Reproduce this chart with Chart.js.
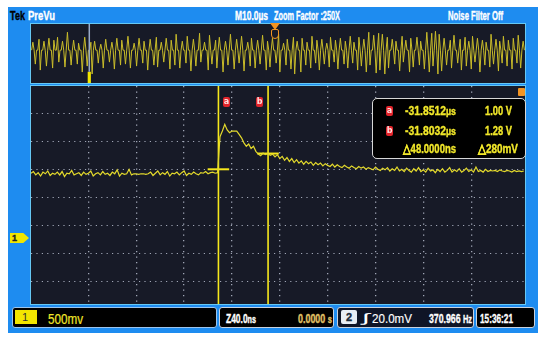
<!DOCTYPE html>
<html>
<head>
<meta charset="utf-8">
<script src="https://cdn.jsdelivr.net/npm/chart.js@4.4.1/dist/chart.umd.min.js"></script>
<style>
html, body { margin: 0; padding: 0; background: #fff; width: 550px; height: 341px; overflow: hidden; }
div, canvas { position: absolute; box-sizing: border-box; }
#frame { left: 8px; top: 7px; width: 530px; height: 326px; background: #1e8cf0; }
.t { font-family: "Liberation Sans", Arial, sans-serif; font-weight: bold; white-space: nowrap; line-height: 1; transform-origin: 0 0; -webkit-text-stroke: 0.35px currentColor; }
.pane { border: 1px solid #66c8f4; background: #171a27; }
.box { background: #000; border: 1px solid #c9d2de; border-radius: 3px; }
.red { background: #e3242b; color: #ffe0e0; border-radius: 2px; font: bold 8px "DejaVu Sans", sans-serif; text-align: center; line-height: 10px; width: 7px; height: 10px; }
.y { color: #f2e82a; }
.w { color: #fff; }
small { font-size: 0.85em; }
</style>
</head>
<body>
<div id="frame"></div>

<!-- top bar -->
<div class="t" data-w="15" style="left:10px;top:9.5px;font-size:12px;color:#000">Tek</div>
<div class="t w" data-w="27" style="left:28px;top:9.5px;font-size:12px">PreVu</div>
<div class="t w" data-w="33" style="left:235px;top:9.5px;font-size:12px">M10.0µs</div>
<div class="t w" data-w="66" style="left:274px;top:9.5px;font-size:12px">Zoom Factor :250X</div>
<div class="t w" data-w="55" style="left:448px;top:9.5px;font-size:12px">Noise Filter Off</div>

<!-- overview -->
<div class="pane" style="left:30px;top:23px;width:496px;height:61px"></div>
<canvas id="ov" width="494" height="59" style="left:31px;top:24px"></canvas>
<div style="left:270px;top:23px;width:10px;height:7px;background:#f39422;clip-path:polygon(0 0,100% 0,50% 100%)"></div>
<div style="left:271px;top:29px;width:8px;height:10px;border:1.5px solid #f39422;border-radius:2px 2px 4px 4px"></div>

<!-- main -->
<div class="pane" style="left:30px;top:85px;width:496px;height:220px"></div>
<canvas id="main" width="494" height="218" style="left:31px;top:86px"></canvas>
<div class="red" style="left:223px;top:97px">a</div>
<div class="red" style="left:256px;top:97px">b</div>
<div style="left:518px;top:88px;width:7px;height:8px;background:#f39422;border-radius:1px"></div>

<div class="box" style="left:372px;top:98px;width:154px;height:61px;border-color:#d8d8d8;border-radius:5px"></div>
<div class="red" style="left:386px;top:106px">a</div>
<div class="t y" data-w="51" style="left:405px;top:103.5px;font-size:13.5px">-31.8512<small>µs</small></div>
<div class="t y" data-w="27" style="left:485px;top:103.5px;font-size:13.5px">1.00 V</div>
<div class="red" style="left:386px;top:126px">b</div>
<div class="t y" data-w="51" style="left:405px;top:123.5px;font-size:13.5px">-31.8032<small>µs</small></div>
<div class="t y" data-w="27" style="left:485px;top:123.5px;font-size:13.5px">1.28 V</div>
<div class="t y" data-w="53" style="left:403px;top:143px;font-size:12.5px">△48.0000ns</div>
<div class="t y" data-w="40" style="left:478px;top:143px;font-size:12.5px">△280mV</div>

<div style="left:10px;top:233px;width:19px;height:10px;background:#f2e600;clip-path:polygon(0 0,70% 0,100% 50%,70% 100%,0 100%)"></div>
<div class="t" style="left:12px;top:234px;font-size:9px;color:#222">1</div>

<!-- bottom bar -->
<div class="box" style="left:12px;top:307px;width:205px;height:21px;border-color:#9cc4ec"></div>
<div style="left:15px;top:310px;width:22px;height:14px;background:#f2e600"></div>
<div class="t" style="left:22px;top:312px;font-size:11px;font-weight:normal;color:#333;-webkit-text-stroke:0">1</div>
<div class="t y" data-w="35" style="left:48px;top:312px;font-size:14px;font-weight:normal;-webkit-text-stroke:0.2px currentColor">500mv</div>

<div class="box" style="left:219px;top:307px;width:115px;height:21px"></div>
<div class="t w" data-w="30" style="left:226px;top:313px;font-size:12px">Z40.0<small>ns</small></div>
<div class="t" data-w="34" style="left:298px;top:313px;font-size:12px;color:#e0c266">0.0000 <small>s</small></div>

<div class="box" style="left:337px;top:307px;width:137px;height:21px;background:#0f1526"></div>
<div style="left:341px;top:310px;width:16px;height:14px;background:#e8eef5;border-radius:2px"></div>
<div class="t" style="left:346px;top:312px;font-size:11px;color:#1a2a3a">2</div>
<div class="t w" data-w="8" style="left:362px;top:312px;font-size:12.5px;font-weight:normal;-webkit-text-stroke:0">∫</div>
<div class="t w" data-w="40" style="left:372px;top:312.5px;font-size:12.5px;font-weight:normal;-webkit-text-stroke:0.15px currentColor">20.0mV</div>
<div class="t w" data-w="43" style="left:429px;top:313px;font-size:12px">370.966 <small>Hz</small></div>

<div class="box" style="left:476px;top:307px;width:59px;height:21px"></div>
<div class="t w" data-w="33" style="left:480px;top:313px;font-size:12px">15:36:21</div>

<script>
// zoomed record (channel 1), sampled every 2 ns
const mainT0 = -208;
const mainDt = 2;
const mainVolts = [
  0.93, 0.96, 0.90, 0.94, 0.88, 0.95, 0.92, 0.97, 0.89, 0.93,
  0.91, 0.95, 0.90, 0.96, 0.87, 0.93, 0.92, 0.98, 0.90, 0.92,
  0.94, 0.89, 0.95, 0.91, 0.93, 0.97, 0.88, 0.92, 0.94, 0.90,
  0.96, 0.91, 0.93, 0.89, 0.95, 0.92, 0.99, 0.88, 0.93, 0.91,
  0.92, 1.00, 0.90, 0.92, 0.92, 0.91, 0.92, 0.92, 0.91, 0.92,
  0.95, 0.89, 0.93, 0.97, 0.90, 0.94, 0.91, 0.96, 0.88, 0.93,
  0.92, 0.95, 0.90, 0.94, 0.97, 0.89, 0.93, 0.91, 0.95, 0.92,
  0.90, 0.94, 0.93, 0.96, 0.92, 0.94, 0.95, 0.93, 0.94,
  1.58, 1.68, 1.80, 1.70, 1.65, 1.68, 1.68, 1.68, 1.62, 1.56,
  1.47, 1.41, 1.45, 1.37, 1.41, 1.32, 1.27, 1.24, 1.29, 1.26,
  1.28, 1.25, 1.27, 1.22, 1.26, 1.19, 1.23, 1.16, 1.21, 1.14,
  1.19, 1.12, 1.17, 1.11, 1.15, 1.09, 1.14, 1.10, 1.13, 1.07,
  1.12, 1.08, 1.11, 1.06, 1.10, 1.07, 1.05, 1.09, 1.04, 1.08,
  1.05, 1.03, 1.07, 1.04, 1.02, 1.06, 1.03, 1.01, 1.05, 1.02,
  1.04, 1.00, 1.03, 1.01, 0.99, 1.04, 1.00, 0.98, 1.02, 0.99,
  1.03, 0.97, 1.01, 0.98, 1.04, 0.97, 1.00, 0.96, 1.02, 0.98,
  0.95, 1.01, 0.97, 1.03, 0.96, 0.99, 0.95, 1.02, 0.97, 0.99,
  0.94, 1.00, 0.96, 1.01, 0.95, 0.98, 1.03, 0.95, 0.99, 0.96,
  1.01, 0.95, 0.98, 1.02, 0.96, 0.99, 0.95, 1.04, 0.96, 0.98,
  0.95, 1.00, 0.96, 0.98, 0.97, 0.98, 0.96, 0.99, 0.97, 0.96,
  0.98, 0.97, 0.95, 0.98, 0.96, 0.97, 0.96, 0.97
];
const cursorTimes = [-51.3, -9.8];   // ns
const cursorVolts = [1.00, 1.28];    // V
const xTicks = [-160, -120, -80, -40, 0, 40, 80, 120, 160];
const yTicks = [-1.0, -0.5, 0, 0.5, 1.0, 1.5, 2.0];

// full record preview, sampled every 0.25 us
const ovT0 = -49.875;
const ovDt = 0.25;
const ovVals = [
  0, 8, 0, -14, 0, 0, 11, -20, 0, 0, 9, 0, -16, 0, 12, 0, 0, -18, 10, 0,
  0, 13, -12, 0, 0, 9, 0, -17, 0, 18, 0, 0, -15, 0, 10, 0, 0, -14, 7, 0,
  0, -22, 0, 13, 0, -16, 0, 0, 8, -24, 0, 9, 0, 0, -13, 0, 6, 0, -18, 0,
  11, 0, 0, -12, 0, 8, 0, -19, 0, 12, 0, 0, -15, 10, 0, 0, -14, 0, 14, 0,
  -18, 0, 0, 7, 0, -16, 0, 12, 0, 0, -13, 9, 0, 0, -20, 0, 11, 0, 0, -15,
  0, 13, -17, 0, 0, 8, 0, -12, 0, 12, 0, 0, -19, 10, 0, 0, -15, 16, 0, 0,
  -18, 0, 9, 0, 0, -13, 14, 0, 0, -21, 0, 11, 0, -16, 0, 0, 17, -12, 0, 0,
  8, 0, 0, -20, 15, 0, -14, 0, 0, 10, -18, 0, 13, 0, 0, -22, 0, 9, 0, -15,
  0, 16, 0, 0, -19, 0, 11, 0, -13, 0, 14, 0, -21, 0, 0, 8, 0, -16, 12, 0,
  0, -18, 0, 10, 0, -14, 0, 15, 0, 0, -20, 9, 0, -17, 0, 12, 0, 0, -13, 0,
  16, -22, 0, 0, 7, 0, -15, 11, 0, 0, -19, 0, 13, -24, 0, 9, 0, 0, -22, 12,
  0, 0, -15, 8, 0, 0, -18, 14, 0, 0, -13, 10, 0, -20, 0, 11, 0, -14, 0, 7,
  0, -17, 13, 0, 0, -12, 10, 0, -19, 0, 12, 0, 0, -14, 9, 0, -18, 0, 14, 0,
  -13, 8, 0, 0, -20, 13, 0, -16, 0, 11, 0, -22, 0, 18, -15, 0, 0, 15, 0, -23,
  0, 17, -20, 0, 16, 0, -24, 0, 13, -18, 0, 0, 11, 0, -14, 9, 0, 0, -21, 0,
  14, -12, 0, 10, 0, 0, -22, 12, 0, -17, 0, 0, 13, 0, -15, 9, 0, 0, -19, 0,
  18, 0, -22, 0, 17, -16, 0, 19, 0, -24, 16, 0, -21, 0, 12, 0, -15, 0, 0, 10,
  -18, 0, 15, 0, 0, -13, 0, 11, -20, 0, 0, 13, -16, 0, 9, 0, -19, 14, 0, -12,
  0, 12, 0, -22, 0, 10, 0, -15, 8, 0, 0, -17, 16, 0, -14, 0, 11, 0, -21, 9,
  0, -13, 14, 0, 0, -16, 10, 0, 0, -19, 12, 0, 0, -13, 15, 0, -18, 0, 9, 0
];
const zoomMarkUs = -38.2;

// squeeze the UI labels to the narrow scope font widths
document.querySelectorAll('[data-w]').forEach((el) => {
    const w = el.getBoundingClientRect().width;
    el.style.transform = 'scaleX(' + (parseFloat(el.dataset.w) / w) + ')';
});

const gridColor = 'rgba(185,192,208,0.85)';

function fixedTicks(list) {
    return (scale) => { scale.ticks = list.map((v) => ({ value: v })); };
}

// main zoomed window
const mainMin = -1.397, mainMax = 2.482;
const mainData = mainVolts.map((v, i) => ({ x: mainT0 + i * mainDt, y: v }));
const datasets = [{
    data: mainData, borderColor: '#e4da2c', borderWidth: 1.2, pointRadius: 0, tension: 0
}];
cursorTimes.forEach((t, i) => {
    datasets.push({ data: [{ x: t, y: mainMin }, { x: t, y: mainMax }], borderColor: '#f7e81c', borderWidth: 1.6, pointRadius: 0 });
    datasets.push({ data: [{ x: t - 9, y: cursorVolts[i] }, { x: t + 9, y: cursorVolts[i] }], borderColor: '#f7e81c', borderWidth: 2, pointRadius: 0 });
});

new Chart(document.getElementById('main').getContext('2d'), {
    type: 'line',
    data: { datasets: datasets },
    options: {
        responsive: false, animation: false, devicePixelRatio: 1,
        layout: { padding: 0 },
        plugins: { legend: { display: false }, tooltip: { enabled: false } },
        scales: {
            x: { type: 'linear', min: -208, max: 205, afterBuildTicks: fixedTicks(xTicks),
                 ticks: { display: false }, grid: { color: gridColor, lineWidth: 1.3, drawTicks: false },
                 border: { display: false, dash: [1.3, 4.2] } },
            y: { type: 'linear', min: mainMin, max: mainMax, afterBuildTicks: fixedTicks(yTicks),
                 ticks: { display: false }, grid: { color: gridColor, lineWidth: 1, drawTicks: false },
                 border: { display: false, dash: [1.2, 4.2] } }
        }
    }
});

// overview of the full record
const ovMin = -33, ovMax = 26.3;
const ovData = ovVals.map((v, i) => ({ x: ovT0 + i * ovDt, y: v }));
new Chart(document.getElementById('ov').getContext('2d'), {
    type: 'line',
    data: { datasets: [
        { data: [{ x: zoomMarkUs, y: ovMax }, { x: zoomMarkUs, y: -21.7 }], borderColor: '#9aabc8', borderWidth: 1.5, pointRadius: 0 },
        { data: ovData, borderColor: '#c9bc2a', borderWidth: 1, pointRadius: 0, tension: 0 },
        { data: [{ x: zoomMarkUs, y: -21.7 }, { x: zoomMarkUs, y: ovMin }], borderColor: '#f2e600', borderWidth: 3.2, pointRadius: 0 }
    ] },
    options: {
        responsive: false, animation: false, devicePixelRatio: 1,
        layout: { padding: 0 },
        plugins: { legend: { display: false }, tooltip: { enabled: false } },
        scales: {
            x: { type: 'linear', min: -50, max: 50, display: false },
            y: { type: 'linear', min: ovMin, max: ovMax, display: false }
        }
    }
});
</script>
</body>
</html>
